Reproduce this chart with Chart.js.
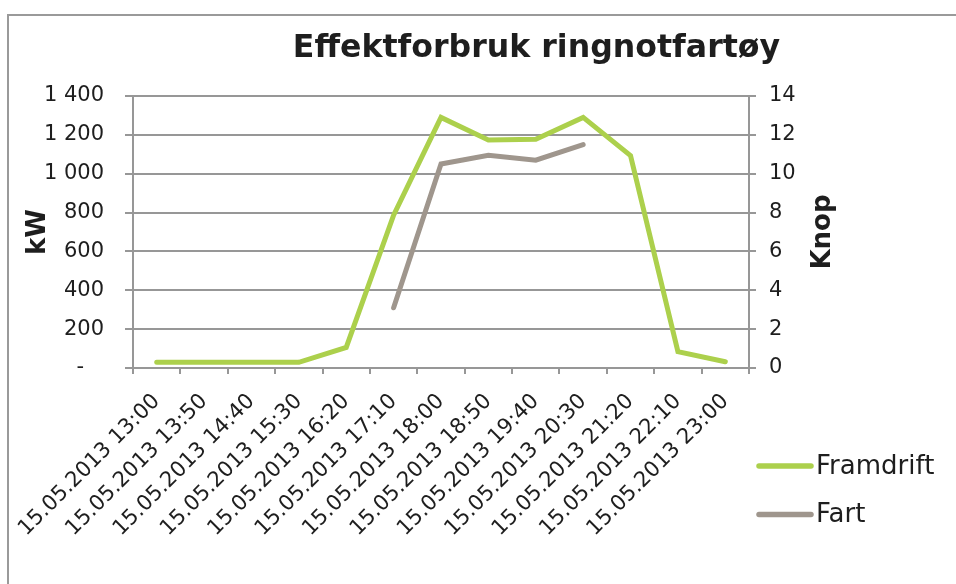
<!DOCTYPE html>
<html>
<head>
<meta charset="utf-8">
<script src="https://cdn.jsdelivr.net/npm/chart.js@4.4.1/dist/chart.umd.min.js"></script>
<style>
  html, body { margin: 0; padding: 0; background: #ffffff; overflow: hidden; }
  #frame { position: absolute; left: 7px; top: 14px; width: 1200px; height: 1200px; border: 2px solid #9a9a9a; box-sizing: border-box; z-index: 0; }
  #c { position: absolute; left: 0; top: 0; z-index: 1; }
</style>
</head>
<body>
<div id="frame"></div>
<canvas id="c" width="956" height="584"></canvas>
<script>
const chartTitle = 'Effektforbruk ringnotfartøy';
const leftAxisTitle = 'kW';
const rightAxisTitle = 'Knop';
const categories = [
  '15.05.2013 13:00', '15.05.2013 13:50', '15.05.2013 14:40', '15.05.2013 15:30',
  '15.05.2013 16:20', '15.05.2013 17:10', '15.05.2013 18:00', '15.05.2013 18:50',
  '15.05.2013 19:40', '15.05.2013 20:30', '15.05.2013 21:20', '15.05.2013 22:10',
  '15.05.2013 23:00'
];
const framdrift = [29, 30, 29, 29, 106, 787, 1290, 1173, 1177, 1290, 1093, 84, 32];
const fart = [null, null, null, null, null, 3.1, 10.5, 10.95, 10.7, 11.5, null, null, null];
const leftTickLabels = ['-\u00a0\u00a0\u00a0', '200', '400', '600', '800', '1 000', '1 200', '1 400'];
const rightTickLabels = ['0', '2', '4', '6', '8', '10', '12', '14'];

const FONT = "'DejaVu Sans', Verdana, sans-serif";
const TEXT = '#1e1e1e';
const GRID = '#979797';
const GREEN = '#acd04c';
const BROWN = '#9f968d';

const overlay = {
  id: 'overlay',
  afterDraw(chart) {
    const ctx = chart.ctx;
    ctx.save();
    ctx.fillStyle = TEXT;
    ctx.font = "bold 31.6px " + FONT;
    ctx.textAlign = 'center';
    ctx.textBaseline = 'alphabetic';
    ctx.fillText(chartTitle, 536.5, 57);
    ctx.font = "bold 26px " + FONT;
    ctx.translate(823, 232);
    ctx.rotate(-Math.PI / 2);
    ctx.textAlign = 'center';
    ctx.textBaseline = 'middle';
    ctx.fillText(rightAxisTitle, 0, 0);
    ctx.restore();
    ctx.save();
    const items = chart.data.datasets;
    items.forEach((ds, i) => {
      const y = 466 + i * 48.5;
      ctx.strokeStyle = ds.borderColor;
      ctx.lineWidth = 5.5;
      ctx.lineCap = 'round';
      ctx.beginPath();
      ctx.moveTo(759, y);
      ctx.lineTo(811, y);
      ctx.stroke();
      ctx.fillStyle = TEXT;
      ctx.font = "26px " + FONT;
      ctx.textAlign = 'left';
      ctx.textBaseline = 'middle';
      ctx.fillText(ds.label, 816, y + 1);
    });
    ctx.restore();
  }
};

new Chart(document.getElementById('c'), {
  type: 'line',
  data: {
    labels: categories,
    datasets: [
      { label: 'Framdrift', data: framdrift, yAxisID: 'y', borderColor: GREEN, backgroundColor: GREEN,
        borderWidth: 5, pointRadius: 0, tension: 0, borderCapStyle: 'round', borderJoinStyle: 'miter', spanGaps: false },
      { label: 'Fart', data: fart, yAxisID: 'y1', borderColor: BROWN, backgroundColor: BROWN,
        borderWidth: 5, pointRadius: 0, tension: 0, borderCapStyle: 'round', borderJoinStyle: 'miter', spanGaps: false }
    ]
  },
  options: {
    responsive: false,
    animation: false,
    devicePixelRatio: 1,
    layout: { padding: { top: 96, left: 0, right: 0, bottom: 0 } },
    plugins: { legend: { display: false }, title: { display: false }, tooltip: { enabled: false } },
    scales: {
      x: {
        type: 'category',
        offset: true,
        grid: { offset: true, drawOnChartArea: false, drawTicks: true, tickLength: 6, color: GRID, lineWidth: 2 },
        border: { display: true, color: GRID, width: 2 },
        ticks: { autoSkip: false, minRotation: 45, maxRotation: 45, padding: 15, color: TEXT, font: { family: FONT, size: 21.3 } },
        afterFit(s) { s.height = 216; }
      },
      y: {
        position: 'left',
        min: 0, max: 1400,
        grid: { color: GRID, lineWidth: 2, tickLength: 8 },
        border: { display: true, color: GRID, width: 2 },
        ticks: { stepSize: 200, padding: 21, color: TEXT, font: { family: FONT, size: 21 },
          callback: (v, i) => leftTickLabels[i] },
        title: { display: true, text: leftAxisTitle, color: TEXT, font: { family: FONT, size: 26, weight: 'bold', lineHeight: 1.2 }, padding: { top: 23, bottom: 0 } },
        afterFit(s) { s.width = 133; }
      },
      y1: {
        position: 'right',
        min: 0, max: 14,
        grid: { drawOnChartArea: false, color: GRID, lineWidth: 2, tickLength: 7 },
        border: { display: true, color: GRID, width: 2 },
        ticks: { stepSize: 2, padding: 13, color: TEXT, font: { family: FONT, size: 21 },
          callback: (v, i) => rightTickLabels[i] },
        title: { display: false, text: rightAxisTitle },
        afterFit(s) { s.width = 207; }
      }
    }
  },
  plugins: [overlay]
});
</script>
</body>
</html>
